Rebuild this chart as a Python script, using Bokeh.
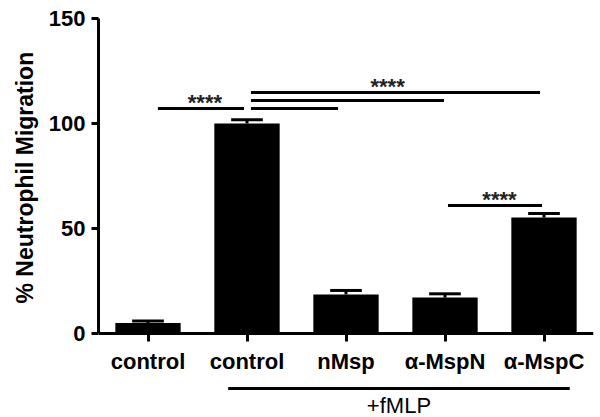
from bokeh.plotting import figure
from bokeh.models import LinearAxis, FixedTicker, Range1d, ColumnDataSource, Title
from bokeh.core.properties import value
from bokeh.embed import file_html
from bokeh.resources import INLINE

# ---- data ----
groups = ["control", "control", "nMsp", "α-MspN", "α-MspC"]
means = [5.0, 100.0, 18.6, 17.1, 55.2]
sems = [1.0, 1.8, 1.9, 1.8, 1.9]
y_ticks = [0, 50, 100, 150]
y_title = "% Neutrophil Migration"

# significance bars (x in group index units, y in %)
sig_x0 = [0.10, 1.04, 1.04, 1.04, 3.03]
sig_x1 = [0.97, 3.96, 2.99, 1.92, 3.98]
sig_y = [107.1, 114.8, 111.0, 107.1, 61.0]
star_x = [0.575, 2.42, 3.55]
star_y = [107.1, 114.8, 61.0]
star_text = ["****", "****", "****"]

# treatment bracket under the axis
treat_x0, treat_x1 = 0.81, 4.26
treat_y = -26.2
treat_label = "+fMLP"
treat_label_y = -38.8

FONT = "Liberation Sans"

idx = list(range(len(groups)))
err_top = [m + s for m, s in zip(means, sems)]
cap_half = 0.16

p = figure(width=600, height=417,
           x_range=Range1d(-0.5, 4.5), y_range=Range1d(-40, 150),
           output_backend="svg", toolbar_location=None,
           x_axis_type=None, y_axis_type=None,
           min_border_left=98, min_border_right=7,
           min_border_top=18, min_border_bottom=0)
p.outline_line_color = None
p.background_fill_color = "white"
p.border_fill_color = "white"

# bars
src = ColumnDataSource(dict(x=idx, top=means, err=err_top,
                            cx0=[i - cap_half for i in idx],
                            cx1=[i + cap_half for i in idx]))
p.segment(x0="x", y0="top", x1="x", y1="err", source=src,
          line_color="black", line_width=3)
p.segment(x0="cx0", y0="err", x1="cx1", y1="err", source=src,
          line_color="black", line_width=3)
p.vbar(x="x", top="top", bottom=0, width=0.66, source=src,
       fill_color="black", line_color=None)

# significance lines
p.segment(x0=sig_x0, y0=sig_y, x1=sig_x1, y1=sig_y,
          line_color="black", line_width=3)
p.text(x=star_x, y=star_y, text=star_text, text_align="center",
       text_baseline="alphabetic", y_offset=-6,
       text_font=value(FONT), text_font_style="bold",
       text_font_size="22px", text_color="#222222")

# treatment bracket
p.segment(x0=[treat_x0], y0=[treat_y], x1=[treat_x1], y1=[treat_y],
          line_color="black", line_width=3)
p.text(x=[(treat_x0 + treat_x1) / 2], y=[treat_label_y], text=[treat_label],
       text_align="center", text_baseline="alphabetic", y_offset=-9,
       text_font=value(FONT), text_font_size="22px", text_color="black")

# axes
yaxis = LinearAxis(ticker=FixedTicker(ticks=y_ticks), bounds=(0, 150))
yaxis.axis_line_width = 3
yaxis.major_tick_line_width = 3
yaxis.major_tick_in = 0
yaxis.major_tick_out = 7
yaxis.minor_tick_line_color = None
yaxis.major_label_standoff = 6
yaxis.major_label_text_font = FONT
yaxis.major_label_text_font_style = "bold"
yaxis.major_label_text_font_size = "22px"
yaxis.major_label_text_color = "black"
p.add_layout(yaxis, "left")

# y-axis title as a side title, placed to sit alongside the 0..150 axis line
p.add_layout(Title(text=y_title, align="left", offset=114, standoff=16,
                   text_font=FONT, text_font_style="bold",
                   text_font_size="23px", text_color="black"), "left")

xaxis = LinearAxis(ticker=FixedTicker(ticks=idx), fixed_location=0,
                   major_label_overrides={i: g for i, g in zip(idx, groups)})
xaxis.axis_line_width = 3
xaxis.major_tick_line_width = 3
xaxis.major_tick_in = 0
xaxis.major_tick_out = 8
xaxis.minor_tick_line_color = None
xaxis.major_label_standoff = 7
xaxis.major_label_text_font = FONT
xaxis.major_label_text_font_style = "bold"
xaxis.major_label_text_font_size = "22px"
xaxis.major_label_text_color = "black"
p.add_layout(xaxis, "below")

open("out.html", "w").write(file_html(p, INLINE))
